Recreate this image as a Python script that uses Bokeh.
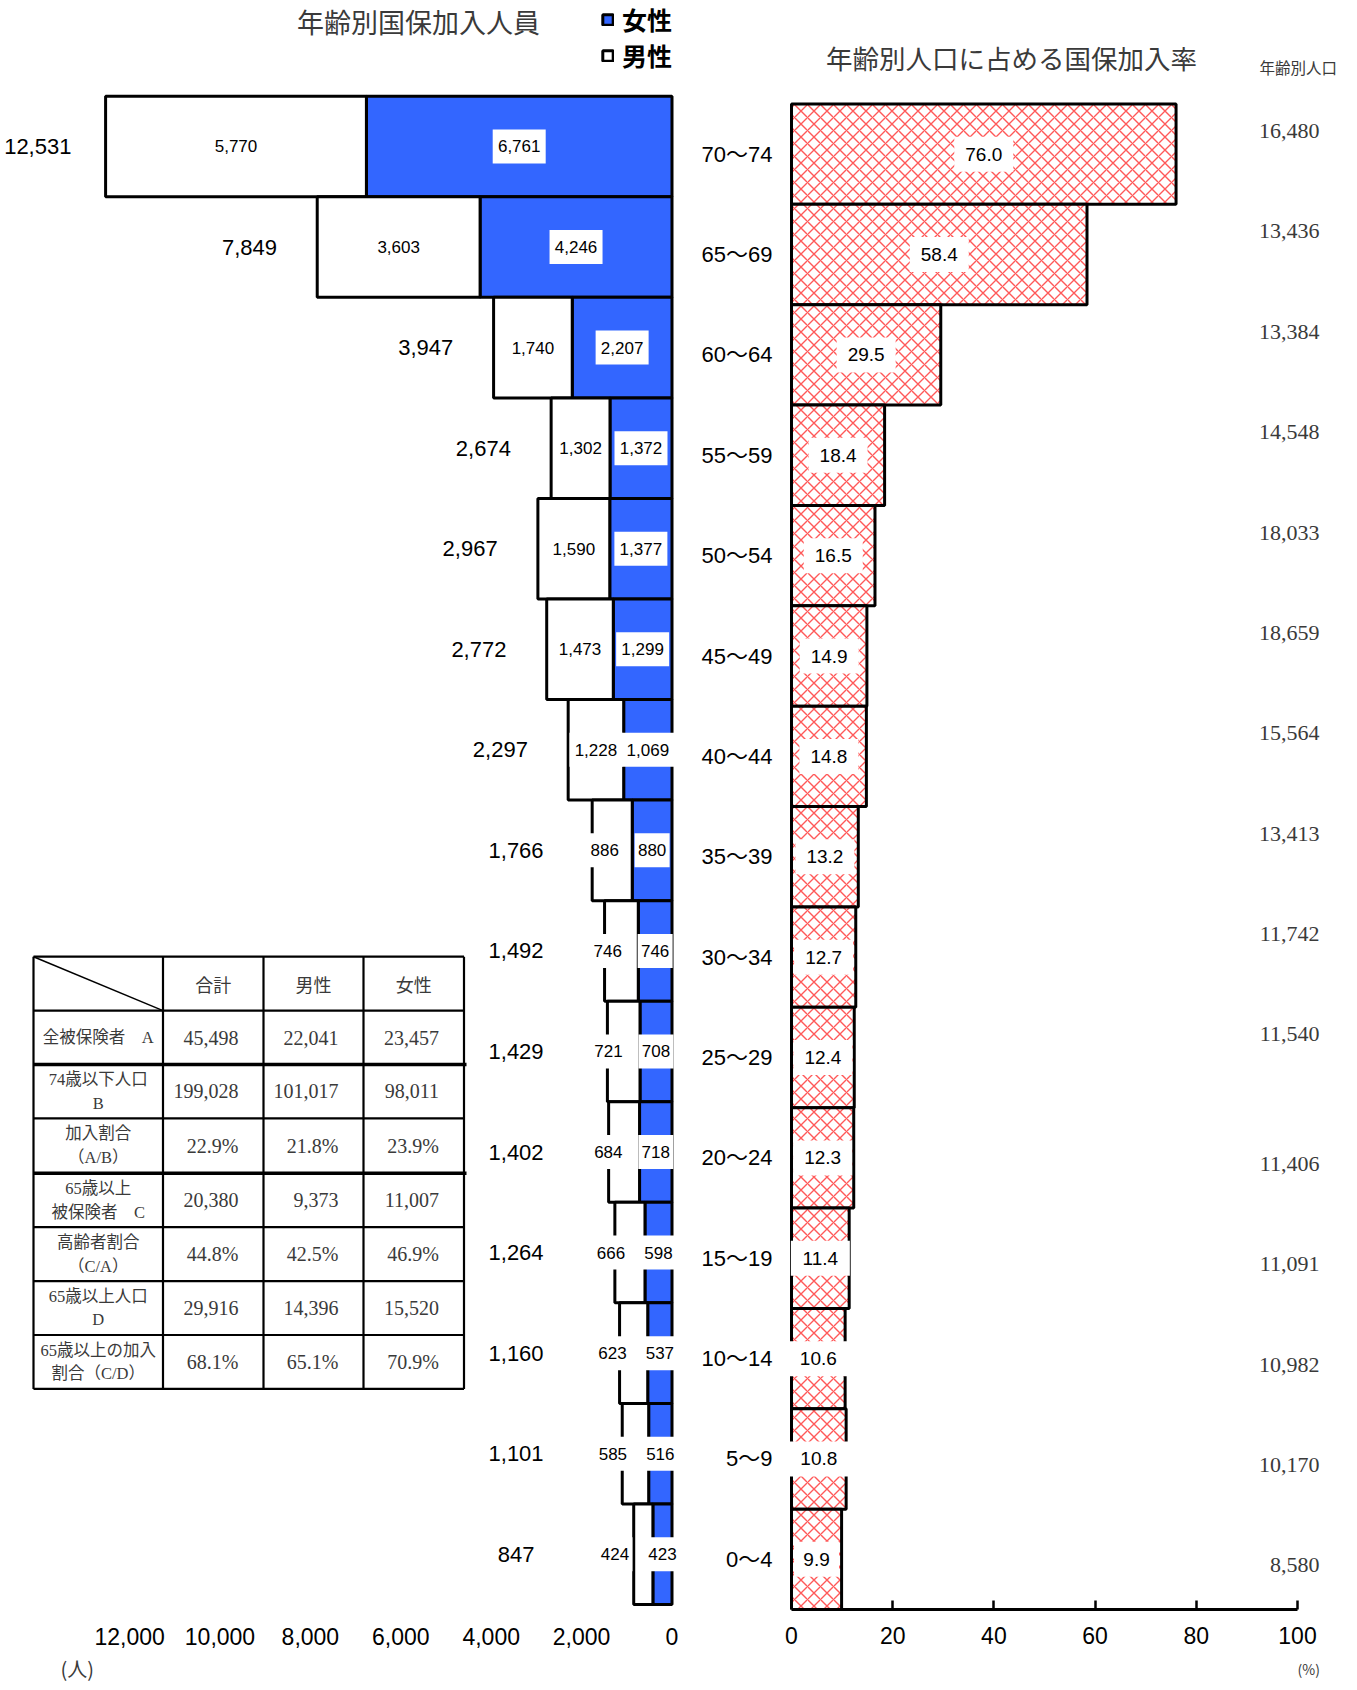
from bokeh.plotting import figure
from bokeh.models import (Range1d, LinearAxis, FixedTicker, NumeralTickFormatter,
                          ColumnDataSource, Legend, LegendItem, Label, Title)
from bokeh.layouts import row
from bokeh.embed import file_html
from bokeh.resources import INLINE
from bokeh.core.properties import value

# ---------------- data ----------------
ages = ["70～74", "65～69", "60～64", "55～59", "50～54", "45～49", "40～44", "35～39",
        "30～34", "25～29", "20～24", "15～19", "10～14", "5～9", "0～4"]
male = [5770, 3603, 1740, 1302, 1590, 1473, 1228, 886, 746, 721, 684, 666, 623, 585, 424]
female = [6761, 4246, 2207, 1372, 1377, 1299, 1069, 880, 746, 708, 718, 598, 537, 516, 423]
rate = [76.0, 58.4, 29.5, 18.4, 16.5, 14.9, 14.8, 13.2, 12.7, 12.4, 12.3, 11.4, 10.6, 10.8, 9.9]
population = [16480, 13436, 13384, 14548, 18033, 18659, 15564, 13413, 11742, 11540,
              11406, 11091, 10982, 10170, 8580]
people_ticks = [0, 2000, 4000, 6000, 8000, 10000, 12000]
rate_ticks = [0, 20, 40, 60, 80, 100]

table_cols = ["合計", "男性", "女性"]
table_rows = ["全被保険者　A", "74歳以下人口\nB", "加入割合\n（A/B）", "65歳以上\n被保険者　C",
              "高齢者割合\n（C/A）", "65歳以上人口\nD", "65歳以上の加入\n割合（C/D）"]
table_total = ["45,498", "199,028", "22.9%", "20,380", "44.8%", "29,916", "68.1%"]
table_male = ["22,041", "101,017", "21.8%", "9,373", "42.5%", "14,396", "65.1%"]
table_female = ["23,457", "98,011", "23.9%", "11,007", "46.9%", "15,520", "70.9%"]

# ---------------- styles ----------------
SANS = "'Liberation Sans', 'Noto Sans CJK JP', sans-serif"
SERIF = "'Liberation Serif', 'Noto Sans CJK JP', serif"
CJK = "'Noto Sans CJK JP', sans-serif"
BLUE = "#3366ff"
GREY = "#3a3a3a"

n = len(ages)
idx = list(range(n))
total = [m + f for m, f in zip(male, female)]

# ---------------- left: population pyramid ----------------
K = 0.0452      # px per person
X0 = 671.5      # screen x of zero
L_TOP, L_ROW = 95.9, 100.74
FB1 = 1612      # frame bottom (px)
p1 = figure(width=690, height=1690, output_backend="svg", toolbar_location=None,
            x_range=Range1d(X0 / K, (X0 - 690) / K),
            y_range=Range1d((FB1 - L_TOP) / L_ROW - 0.5, (0 - L_TOP) / L_ROW - 0.5),
            x_axis_location=None, y_axis_location=None,
            min_border_left=0, min_border_right=0, min_border_top=0,
            min_border_bottom=1690 - FB1)
p1.outline_line_color = None
p1.grid.visible = False
p1.extra_x_ranges = {"sx": Range1d(0, 690)}
p1.extra_y_ranges = {"sy": Range1d(FB1, 0)}

ftxt = [f"{f:,}" for f in female]
mtxt = [f"{m:,}" for m in male]
src = ColumnDataSource(dict(
    y=idx, male=male, female=female, total=total,
    fx=[f / 2 for f in female],
    mx=[max(f + m / 2, f / 2 + 1050) for m, f in zip(male, female)],
    tx=[max(t + 1500, 3450) for t in total],
    ftxt=ftxt, mtxt=mtxt,
    fw=[9 * len(s) + 8 for s in ftxt],
    mw=[9 * len(s) + 8 for s in mtxt],
    ttxt=[f"{t:,}" for t in total],
))
rf = p1.hbar(y="y", height=1, left=0, right="female", source=src,
             fill_color=BLUE, line_color="black", line_width=3)
rm = p1.hbar(y="y", height=1, left="female", right="total", source=src,
             fill_color="white", line_color="black", line_width=3)
# white boxes behind the in-bar labels
p1.rect(x="mx", y="y", width="mw", height=34, width_units="screen", height_units="screen",
        source=src, fill_color="white", line_color=None)
p1.rect(x="fx", y="y", width="fw", height=34, width_units="screen", height_units="screen",
        source=src, fill_color="white", line_color=None)
p1.text(x="mx", y="y", text="mtxt", source=src, text_align="center", text_baseline="middle",
        text_font=value(SANS), text_font_size="17px", text_color="black")
p1.text(x="fx", y="y", text="ftxt", source=src, text_align="center", text_baseline="middle",
        text_font=value(SANS), text_font_size="17px", text_color="black")
p1.text(x="tx", y="y", text="ttxt", source=src, text_align="center", text_baseline="middle",
        text_font=value(SANS), text_font_size="22px", text_color="black")

ax1 = LinearAxis(ticker=FixedTicker(ticks=people_ticks),
                 formatter=NumeralTickFormatter(format="0,0"),
                 axis_line_color=None, major_tick_line_color=None, minor_tick_line_color=None,
                 major_tick_in=0, major_tick_out=0,
                 major_label_text_font=SANS, major_label_text_font_size="23px",
                 major_label_text_color="black", major_label_standoff=18)
p1.add_layout(ax1, "below")
p1.add_layout(Title(text="(人)", align="left", offset=60, standoff=8,
                    text_font=CJK, text_font_size="20px", text_font_style="normal",
                    text_color=GREY), "below")

legend = Legend(items=[LegendItem(label="女性", renderers=[rf]),
                       LegendItem(label="男性", renderers=[rm])],
                location=(601, FB1 - 76), orientation="vertical",
                glyph_width=13, glyph_height=13, label_standoff=8, spacing=-3,
                padding=0, margin=0, label_height=25,
                label_text_font=CJK, label_text_font_size="25px", label_text_font_style="bold",
                label_text_color="black",
                border_line_color=None, background_fill_alpha=0)
p1.add_layout(legend, "center")

p1.add_layout(Label(x=418, y=21, x_range_name="sx", y_range_name="sy", text="年齢別国保加入人員",
                    text_align="center", text_baseline="middle", text_font=CJK,
                    text_font_size="27px", text_color=GREY))

# ---------------- summary table (drawn inside left panel) ----------------
col_x = [33, 162.5, 263, 363, 463.5]
row_y = [958, 1012, 1066, 1120, 1175, 1229, 1283, 1337, 1391]
thick_rows = [1066, 1175]
hx0, hy0, hx1, hy1 = [], [], [], []
for yy in row_y:
    if yy in thick_rows:
        continue
    hx0.append(col_x[0]); hx1.append(col_x[-1]); hy0.append(yy); hy1.append(yy)
for xx in col_x:
    hx0.append(xx); hx1.append(xx); hy0.append(row_y[0]); hy1.append(row_y[-1])
p1.segment(x0=hx0, y0=hy0, x1=hx1, y1=hy1, x_range_name="sx", y_range_name="sy",
           line_color="black", line_width=2.2)
p1.segment(x0=[col_x[0]] * 2, y0=thick_rows, x1=[col_x[-1] + 2.5] * 2, y1=thick_rows,
           x_range_name="sx", y_range_name="sy", line_color="black", line_width=3.5)
p1.segment(x0=[col_x[0]], y0=[row_y[0]], x1=[col_x[1]], y1=[row_y[1]],
           x_range_name="sx", y_range_name="sy", line_color="black", line_width=1.5)

hdr_x = [(col_x[i] + col_x[i + 1]) / 2 for i in range(1, 4)]
p1.text(x=hdr_x, y=[(row_y[0] + row_y[1]) / 2] * 3, text=table_cols,
        x_range_name="sx", y_range_name="sy", text_align="center", text_baseline="middle",
        text_font=value(CJK), text_font_size="18px", text_color=GREY)
rc_y = [(row_y[i] + row_y[i + 1]) / 2 for i in range(1, 8)]
p1.text(x=[(col_x[0] + col_x[1]) / 2] * 7, y=rc_y, text=table_rows,
        x_range_name="sx", y_range_name="sy", text_align="center", text_baseline="middle",
        text_font=value(SERIF), text_font_size="16.5px", text_color=GREY,
        text_line_height=1.25)
for ci, vals in enumerate([table_total, table_male, table_female]):
    p1.text(x=[col_x[ci + 2] - 25] * 7, y=rc_y, text=vals,
            x_range_name="sx", y_range_name="sy", text_align="right", text_baseline="middle",
            text_font=value(SERIF), text_font_size="20px", text_color=GREY)

# ---------------- right: enrolment rate ----------------
PX = 5.06      # px per percent
R0 = 791       # screen x of 0 %
FL2 = 781      # frame left (px)
R_TOP, R_ROW = 103.5, 100.37
FB2 = 1609
p2 = figure(width=667, height=1690, output_backend="svg", toolbar_location=None,
            x_range=Range1d((FL2 - R0) / PX, (1357 - R0) / PX),
            y_range=Range1d((FB2 - R_TOP) / R_ROW - 0.5, (0 - R_TOP) / R_ROW - 0.5),
            x_axis_location=None, y_axis_location=None,
            min_border_left=FL2 - 690, min_border_right=0, min_border_top=0,
            min_border_bottom=1690 - FB2)
p2.outline_line_color = None
p2.grid.visible = False
p2.extra_x_ranges = {"sx": Range1d(FL2, 1357)}
p2.extra_y_ranges = {"sy": Range1d(FB2, 0)}

ltxt = [f"{r:.1f}" for r in rate]
src2 = ColumnDataSource(dict(
    y=idx, rate=rate,
    lx=[r / 2 for r in rate],
    ltxt=ltxt,
    lw=[14 * len(s) + 3 for s in ltxt],
    py=[i - 0.23 if i < 10 else i + 0.06 for i in idx],
    px=[(1319 - R0) / PX] * n,
    ptxt=[f"{v:,}" for v in population],
))
p2.hbar(y="y", height=1, left=0, right="rate", source=src2,
        fill_color="white", hatch_pattern="x", hatch_color="#ff2e2e", hatch_alpha=0.8,
        hatch_scale=13, hatch_weight=1.4, line_color="black", line_width=3)
p2.rect(x="lx", y="y", width="lw", height=35, width_units="screen", height_units="screen",
        source=src2, fill_color="white", line_color=None)
p2.text(x="lx", y="y", text="ltxt", source=src2, text_align="center", text_baseline="middle",
        text_font=value(SANS), text_font_size="19px", text_color="black")
p2.text(x="px", y="py", text="ptxt", source=src2, text_align="right", text_baseline="middle",
        text_font=value(SERIF), text_font_size="22px", text_color=GREY)

ay = LinearAxis(ticker=FixedTicker(ticks=idx),
                major_label_overrides={i: a for i, a in enumerate(ages)},
                axis_line_color=None, major_tick_line_color=None, minor_tick_line_color=None,
                major_tick_in=0, major_tick_out=0,
                major_label_text_font=SANS, major_label_text_font_size="22px",
                major_label_text_color="black", major_label_standoff=9)
p2.add_layout(ay, "left")
ax2 = LinearAxis(ticker=FixedTicker(ticks=rate_ticks), bounds=(0, 100),
                 axis_line_color="black", axis_line_width=3,
                 major_tick_in=9, major_tick_out=0, major_tick_line_width=2.5,
                 minor_tick_line_color=None,
                 major_label_text_font=SANS, major_label_text_font_size="23px",
                 major_label_text_color="black", major_label_standoff=17)
p2.add_layout(ax2, "below")
p2.add_layout(Title(text="(%)", align="left", offset=1297 - FL2, standoff=21,
                    text_font=CJK, text_font_size="14px", text_font_style="normal",
                    text_color=GREY), "below")

p2.add_layout(Label(x=1011, y=57, x_range_name="sx", y_range_name="sy",
                    text="年齢別人口に占める国保加入率", text_align="center", text_baseline="middle",
                    text_font=CJK, text_font_size="26.5px", text_color=GREY))
p2.add_layout(Label(x=1259, y=66, x_range_name="sx", y_range_name="sy",
                    text="年齢別人口", text_align="left", text_baseline="middle",
                    text_font=CJK, text_font_size="15.5px", text_color=GREY))

layout = row(p1, p2)
open("out.html", "w").write(file_html(layout, INLINE))
